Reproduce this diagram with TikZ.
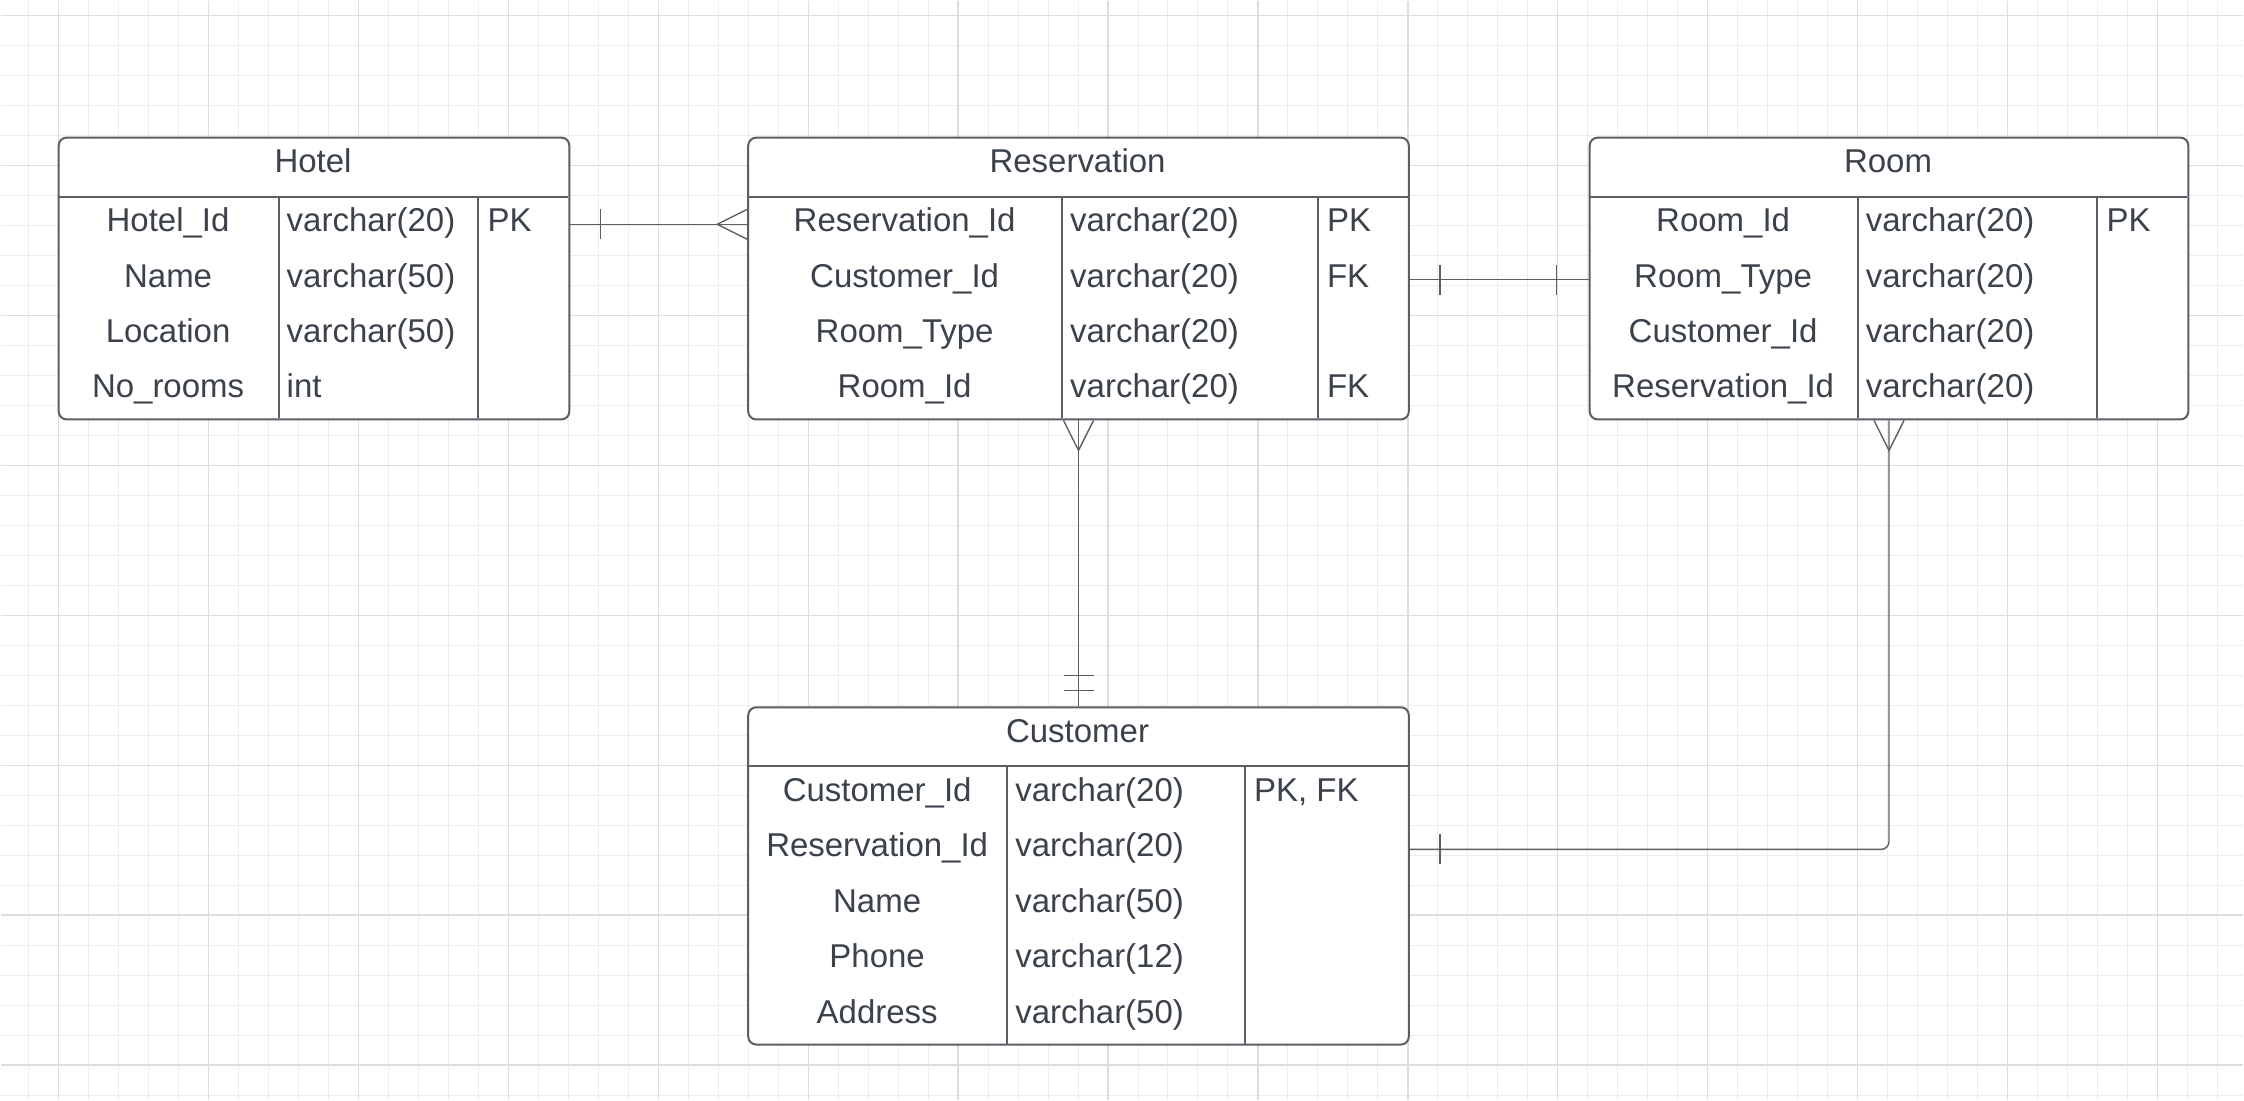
\documentclass[tikz,border=0pt]{standalone}
\usepackage{fontspec}
\setmainfont{Liberation Sans}
\definecolor{erline}{HTML}{5A5F66}
\definecolor{ertext}{HTML}{3C424B}
\definecolor{gridmin}{HTML}{EDEDED}
\definecolor{gridmaj}{HTML}{DDDDDD}

\begin{document}
\begin{tikzpicture}[x=1pt,y=-1pt,
    every node/.style={text=ertext,font=\fontsize{33}{40}\selectfont},
    tbl/.style={draw=erline,fill=white,line width=2pt,rounded corners=8pt,inner sep=0pt,anchor=north west},
    cell/.style={inner sep=0pt,text height=23pt,text depth=8.5pt},
    tblrule/.style={draw=erline,line width=2pt},
    conn/.style={draw=erline,line width=1.4pt}]
    % background and grid
    \fill[white] (0,0) rectangle (2244,1100);
    \foreach \x in {28,58,...,2244} \draw[gridmin,line width=1pt] (\x,0) -- (\x,1100);
    \foreach \y in {15,45,...,1100} \draw[gridmin,line width=1pt] (0,\y) -- (2244,\y);
    \foreach \x in {58,208,...,2244} \draw[gridmaj,line width=1.4pt] (\x,0) -- (\x,1100);
    \foreach \y in {15,165,...,1100} \draw[gridmaj,line width=1.4pt] (0,\y) -- (2244,\y);

    % Hotel
    \node[tbl,minimum width=511pt,minimum height=282pt] (hotel) at (57,136) {};
    \node[cell] (hotel-t) at (312.5,164.75) {Hotel};
    \draw[tblrule] (57,196) -- (568,196) (278,196) -- (278,418) (478,196) -- (478,418);
    \foreach \a/\b/\c [count=\i] in {Hotel\_Id/varchar(20)/PK,Name/varchar(50)/{},Location/varchar(50)/{},No\_rooms/int/{}}{
      \node[cell] (hotel-\i) at (167.5,{168.25+55.5*\i}) {\a};
      \node[cell,anchor=west] at (286,{168.25+55.5*\i}) {\b};
      \node[cell,anchor=west] at (487,{168.25+55.5*\i}) {\c};
    }

    % Reservation
    \node[tbl,minimum width=661pt,minimum height=282pt] (res) at (747,136) {};
    \node[cell] (res-t) at (1077.5,164.75) {Reservation};
    \draw[tblrule] (747,196) -- (1408,196) (1062,196) -- (1062,418) (1318,196) -- (1318,418);
    \foreach \a/\b/\c [count=\i] in {Reservation\_Id/varchar(20)/PK,Customer\_Id/varchar(20)/FK,Room\_Type/varchar(20)/{},Room\_Id/varchar(20)/FK}{
      \node[cell] (res-\i) at (904.5,{168.25+55.5*\i}) {\a};
      \node[cell,anchor=west] at (1070,{168.25+55.5*\i}) {\b};
      \node[cell,anchor=west] at (1327,{168.25+55.5*\i}) {\c};
    }

    % Room
    \node[tbl,minimum width=599pt,minimum height=282pt] (room) at (1589,136) {};
    \node[cell] (room-t) at (1888.5,164.75) {Room};
    \draw[tblrule] (1589,196) -- (2188,196) (1858,196) -- (1858,418) (2098,196) -- (2098,418);
    \foreach \a/\b/\c [count=\i] in {Room\_Id/varchar(20)/PK,Room\_Type/varchar(20)/{},Customer\_Id/varchar(20)/{},Reservation\_Id/varchar(20)/{}}{
      \node[cell] (room-\i) at (1723.5,{168.25+55.5*\i}) {\a};
      \node[cell,anchor=west] at (1866,{168.25+55.5*\i}) {\b};
      \node[cell,anchor=west] at (2107,{168.25+55.5*\i}) {\c};
    }

    % Customer
    \node[tbl,minimum width=661pt,minimum height=337.5pt] (cust) at (747,706) {};
    \node[cell] (cust-t) at (1077.5,734.75) {Customer};
    \draw[tblrule] (747,766) -- (1408,766) (1007,766) -- (1007,1043.5) (1245,766) -- (1245,1043.5);
    \foreach \a/\b/\c [count=\i] in {Customer\_Id/varchar(20)/{PK, FK},Reservation\_Id/varchar(20)/{},Name/varchar(50)/{},Phone/varchar(12)/{},Address/varchar(50)/{}}{
      \node[cell] (cust-\i) at (877,{738.25+55.5*\i}) {\a};
      \node[cell,anchor=west] at (1015,{738.25+55.5*\i}) {\b};
      \node[cell,anchor=west] at (1254,{738.25+55.5*\i}) {\c};
    }

    % Hotel - Reservation
    \draw[conn] (hotel.east |- hotel-1) coordinate (hr1) -- (res.west |- hotel-1) coordinate (hr2);
    \draw[conn] (hr1) ++(30,-15) -- ++(0,30);
    \draw[conn] (hr2) ++(0,-15) -- ++(-30,15) -- ++(30,15);
    % Reservation - Room
    \draw[conn] (res.east |- res-2) coordinate (rr1) -- (room.west |- res-2) coordinate (rr2);
    \draw[conn] (rr1) ++(30,-15) -- ++(0,30);
    \draw[conn] (rr2) ++(-32,-15) -- ++(0,30);
    % Reservation - Customer
    \draw[conn] (res.south) -- (cust.north);
    \draw[conn] (res.south) ++(-15,0) -- ++(15,30) -- ++(15,-30);
    \draw[conn] (cust.north) ++(-15,-31) -- ++(30,0) ++(-30,15) -- ++(30,0);
    % Room - Customer
    \draw[conn,rounded corners=8pt] (room.south) |- (cust.east |- cust-2) coordinate (rc2);
    \draw[conn] (room.south) ++(-15,0) -- ++(15,30) -- ++(15,-30);
    \draw[conn] (rc2) ++(30,-15) -- ++(0,30);
\end{tikzpicture}
\end{document}
